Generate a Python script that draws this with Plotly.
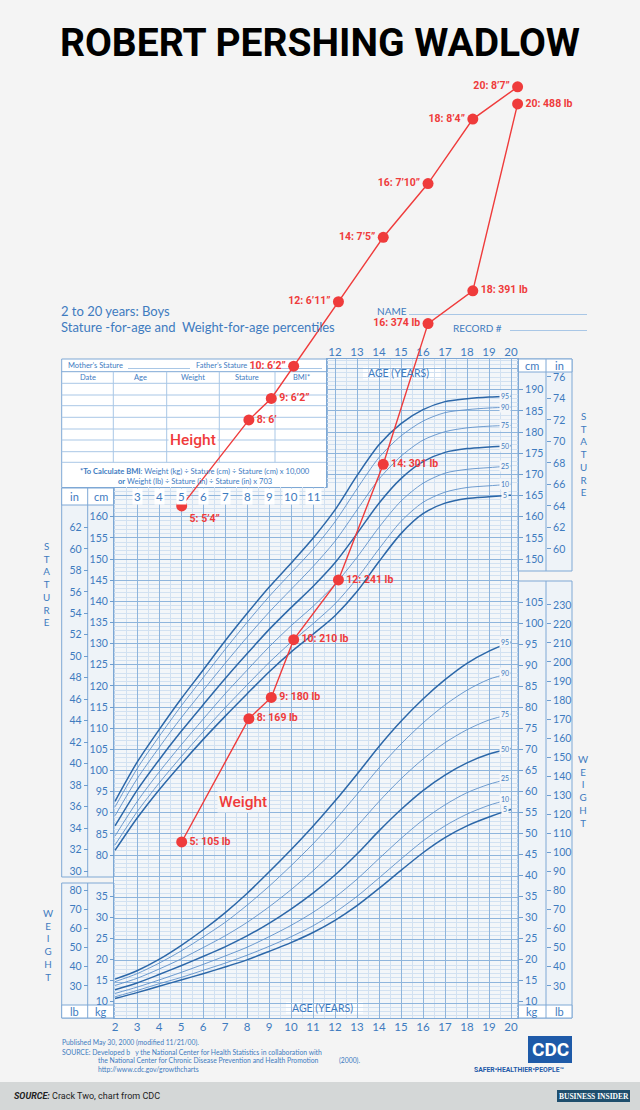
import plotly.graph_objects as go

W, H = 640, 1110

# ---------------- data ----------------
ages = list(range(2, 21))
pct_labels = ["5", "10", "25", "50", "75", "90", "95"]

stature_p5 = [81.1, 88.7, 95.4, 101.5, 107.3, 112.8, 118.1, 123.3, 128.0, 132.2, 136.6, 142.3, 149.4, 156.0, 160.7, 163.2, 164.3, 164.7, 165.1]
stature_p10 = [82.4, 90.2, 97.0, 103.2, 109.1, 114.8, 120.2, 125.5, 130.3, 134.7, 139.4, 145.4, 152.4, 158.9, 163.4, 165.8, 166.9, 167.3, 167.7]
stature_p25 = [84.5, 92.6, 99.6, 106.0, 112.1, 118.1, 123.7, 129.2, 134.2, 138.8, 144.0, 150.4, 157.5, 163.7, 167.9, 170.3, 171.2, 171.6, 172.0]
stature_p50 = [86.9, 95.3, 102.5, 109.2, 115.5, 121.7, 127.6, 133.3, 138.5, 143.5, 149.1, 156.0, 163.2, 169.0, 173.0, 175.2, 176.1, 176.5, 176.8]
stature_p75 = [89.3, 98.0, 105.4, 112.4, 118.9, 125.3, 131.5, 137.4, 142.8, 148.2, 154.2, 161.6, 168.9, 174.3, 178.1, 180.1, 181.0, 181.4, 181.6]
stature_p90 = [91.4, 100.4, 108.0, 115.2, 121.9, 128.6, 135.0, 141.1, 146.7, 152.3, 158.8, 166.6, 174.0, 179.1, 182.6, 184.6, 185.3, 185.7, 185.9]
stature_p95 = [92.7, 101.9, 109.6, 116.9, 123.7, 130.6, 137.1, 143.3, 149.0, 154.9, 161.6, 169.7, 177.0, 182.0, 185.3, 187.2, 187.9, 188.3, 188.5]

weight_p5 = [10.6, 12.0, 13.5, 15.0, 16.5, 18.1, 19.8, 21.8, 23.9, 26.3, 29.2, 32.7, 36.8, 41.1, 45.3, 48.9, 51.7, 53.8, 55.6]
weight_p10 = [11.0, 12.5, 14.1, 15.6, 17.3, 19.0, 20.9, 23.0, 25.3, 27.9, 31.1, 34.9, 39.3, 43.8, 48.1, 51.7, 54.5, 56.6, 58.1]
weight_p25 = [11.8, 13.3, 15.0, 16.8, 18.7, 20.7, 22.8, 25.3, 28.0, 31.1, 34.7, 39.0, 43.9, 48.7, 53.1, 56.7, 59.6, 61.6, 63.0]
weight_p50 = [12.7, 14.3, 16.3, 18.4, 20.6, 22.9, 25.5, 28.5, 31.9, 35.7, 40.0, 45.0, 50.5, 55.6, 60.1, 63.8, 66.7, 68.8, 70.1]
weight_p75 = [13.7, 15.4, 17.6, 20.0, 22.7, 25.5, 28.7, 32.4, 36.5, 41.0, 46.0, 51.6, 57.5, 62.9, 67.6, 71.5, 74.6, 76.9, 78.3]
weight_p90 = [14.6, 16.5, 19.0, 21.9, 25.2, 28.7, 32.8, 37.3, 42.2, 47.4, 53.1, 59.2, 65.5, 71.2, 76.2, 80.5, 84.0, 86.6, 88.1]
weight_p95 = [15.2, 17.2, 19.9, 23.2, 26.9, 31.0, 35.6, 40.7, 46.0, 51.6, 57.6, 64.0, 70.6, 76.6, 81.9, 86.5, 90.4, 93.3, 95.5]

point_ages = [5, 8, 9, 10, 12, 14, 16, 18, 20]
height_in = [64, 72, 74, 77, 83, 89, 94, 100, 103]   # as drawn on the picture
height_labels = ["5: 5\u20194\u201d", "8: 6\u2019", "9: 6\u20192\u201d", "10: 6\u20192\u201d", "12: 6\u201911\u201d",
                 "14: 7\u20195\u201d", "16: 7\u201910\u201d", "18: 8\u20194\u201d", "20: 8\u20197\u201d"]
weight_lb = [105, 169, 180, 210, 241, 301, 374, 391, 488]
weight_labels = ["5: 105 lb", "8: 169 lb", "9: 180 lb", "10: 210 lb", "12: 241 lb",
                 "14: 301 lb", "16: 374 lb", "18: 391 lb", "20: 488 lb"]

top_age_ticks = list(range(12, 21))
bottom_age_ticks = list(range(2, 21))
mid_age_ticks = list(range(3, 12))
left_in_ticks = list(range(30, 63, 2))
left_cm_ticks = list(range(80, 161, 5))
left_lb_ticks = list(range(30, 81, 10))
left_kg_ticks = list(range(10, 36, 5))
right_cm_ticks = list(range(150, 191, 5))
right_in_ticks = list(range(60, 77, 2))
right_kg_ticks = list(range(10, 106, 5))
right_lb_ticks = list(range(30, 231, 10))

# ---------------- styling ----------------
BLUE = '#3e7bbf'
TICKC = '#6d9dd0'
BORDER = '#7ea8d5'
LINE_L = '#a9c7e6'
GRID_MAJ = '#8fb5dc'
GRID_MIN = '#d2e1f1'
GRID_BG = '#f3f6f9'
COL_BG = '#eef3f8'
PAGE_BG = '#f4f4f4'
RED = '#ef3b3b'
CURVE_DARK = '#2c67a8'
CURVE_LIGHT = '#5f91c9'
FONT = 'Lato'


def fx(x):
    return x / W


def fy(y):
    return 1 - y / H


# pixel calibration of the chart scales
def age_at(px):
    return 2 + (px - 115) / 22.0


def cm_at(py):
    return 160 + (516.7 - py) / 4.23


def kg_at(py):
    return 10 + (1001 - py) / 4.2


def red_age_at(px):
    return 5 + (px - 181.7) / 22.393


def in_at(py):
    return (1193.5 - py) / 10.744


def lb_at(py):
    return (1044.3 - py) / 1.927


GX0, GX1, GT, GB, GMID, BX0 = 114, 518, 359, 1018, 487, 327.3
x_rng = [age_at(GX0), age_at(GX1)]
cm_rng = [cm_at(GB), cm_at(GT)]
kg_rng = [kg_at(GB), kg_at(GT)]
in_rng = [v / 2.54 for v in cm_rng]
lb_rng = [v * 2.20462 for v in kg_rng]

fig = go.Figure()

# placeholder (empty) traces so that grid-only / tick-only axes are drawn
for xa, ya in [('x', 'y'), ('x2', 'y2'), ('x4', 'y3')] + [('x3', 'y%d' % k) for k in range(7, 15)]:
    fig.add_trace(go.Scatter(x=[None], y=[None], xaxis=xa, yaxis=ya, mode='markers',
                             hoverinfo='skip', showlegend=False))

# percentile curves
for lab, vals in zip(pct_labels, [stature_p5, stature_p10, stature_p25, stature_p50, stature_p75, stature_p90, stature_p95]):
    major = lab in ("5", "50", "95")
    fig.add_trace(go.Scatter(x=ages, y=vals, xaxis='x3', yaxis='y3', mode='lines',
                             line=dict(color=CURVE_DARK if major else CURVE_LIGHT, width=1.5 if major else 0.9,
                                       shape='spline', smoothing=0.8),
                             hoverinfo='skip', showlegend=False))
for lab, vals in zip(pct_labels, [weight_p5, weight_p10, weight_p25, weight_p50, weight_p75, weight_p90, weight_p95]):
    major = lab in ("5", "50", "95")
    fig.add_trace(go.Scatter(x=ages, y=vals, xaxis='x3', yaxis='y4', mode='lines',
                             line=dict(color=CURVE_DARK if major else CURVE_LIGHT, width=1.5 if major else 0.9,
                                       shape='spline', smoothing=0.8),
                             hoverinfo='skip', showlegend=False))

# Wadlow's points
height_pos = ['bottom right', 'middle right', 'middle right'] + ['middle left'] * 6
weight_pos = ['middle right'] * 6 + ['middle left'] + ['middle right'] * 2
red_font = dict(family='Roboto', size=10.5, color=RED, weight='bold')
fig.add_trace(go.Scatter(x=point_ages, y=height_in, xaxis='x5', yaxis='y5', mode='lines+markers+text',
                         text=height_labels, textposition=height_pos, textfont=red_font,
                         marker=dict(size=11, color=RED), line=dict(color=RED, width=1.4),
                         cliponaxis=False, hoverinfo='skip', showlegend=False))
fig.add_trace(go.Scatter(x=point_ages, y=weight_lb, xaxis='x5', yaxis='y6', mode='lines+markers+text',
                         text=weight_labels, textposition=weight_pos, textfont=red_font,
                         marker=dict(size=11, color=RED), line=dict(color=RED, width=1.4),
                         cliponaxis=False, hoverinfo='skip', showlegend=False))

# ---------------- axes ----------------
def grid_x(domain, rng, anchor, **kw):
    d = dict(domain=domain, range=rng, anchor=anchor, showticklabels=False, ticks='', zeroline=False,
             showgrid=True, gridcolor=GRID_MAJ, gridwidth=1, tick0=0, dtick=1,
             minor=dict(tick0=0, dtick=0.5, showgrid=True, gridcolor=GRID_MIN, gridwidth=1, ticks=''),
             showline=False, linecolor=BORDER, fixedrange=True, automargin=False)
    d.update(kw)
    return d


def grid_y(domain, rng, anchor, **kw):
    d = dict(domain=domain, range=rng, anchor=anchor, showticklabels=False, ticks='', zeroline=False,
             showgrid=True, gridcolor=GRID_MAJ, gridwidth=1, tick0=0, dtick=5,
             minor=dict(tick0=0, dtick=1, showgrid=True, gridcolor=GRID_MIN, gridwidth=1, ticks=''),
             showline=False, linecolor=BORDER, fixedrange=True, automargin=False)
    d.update(kw)
    return d


def hidden(**kw):
    d = dict(visible=False, fixedrange=True, automargin=False, showgrid=False, zeroline=False)
    d.update(kw)
    return d


def tick_axis(rng, vals, pos_px, side):
    return dict(overlaying='y3', anchor='free', position=fx(pos_px), side=side, range=rng,
                tickmode='array', tickvals=vals, ticks='outside', ticklen=4,
                tickcolor=TICKC, tickwidth=1, tickfont=dict(family=FONT, size=10.5, color=BLUE),
                showgrid=False, zeroline=False, showline=False, fixedrange=True, automargin=False)


age_font = dict(family=FONT, size=11.5, color=BLUE)
layout_axes = dict(
    xaxis=grid_x([fx(GX0), fx(GX1)], x_rng, 'y', showline=True),
    yaxis=grid_y([fy(GB), fy(GMID)], [cm_at(GB), cm_at(GMID)], 'x', showline=True, mirror=True),
    xaxis2=grid_x([fx(BX0), fx(GX1)], [age_at(BX0), age_at(GX1)], 'y2', side='top', showline=True),
    yaxis2=grid_y([fy(GMID), fy(GT)], [cm_at(GMID), cm_at(GT)], 'x2', showline=True, mirror=True),
    xaxis3=dict(domain=[fx(GX0), fx(GX1)], range=x_rng, anchor='y3', side='bottom', tickmode='array',
                tickvals=bottom_age_ticks, ticks='', showgrid=False, zeroline=False, showline=False,
                tickfont=age_font, fixedrange=True, automargin=False),
    xaxis4=dict(overlaying='x3', anchor='y3', side='top', range=x_rng, tickmode='array',
                tickvals=top_age_ticks, ticks='', showgrid=False, zeroline=False, showline=False,
                tickfont=age_font, fixedrange=True, automargin=False),
    yaxis3=hidden(domain=[fy(GB), fy(GT)], range=cm_rng, anchor='x3'),
    yaxis4=hidden(overlaying='y3', range=kg_rng, anchor='x3'),
    xaxis5=hidden(domain=[0, 1], range=[red_age_at(0), red_age_at(W)], anchor='y5'),
    yaxis5=hidden(domain=[0, 1], range=[in_at(H), in_at(0)], anchor='x5'),
    yaxis6=hidden(overlaying='y5', range=[lb_at(H), lb_at(0)], anchor='x5'),
    yaxis7=tick_axis(cm_rng, left_cm_ticks, 114, 'left'),
    yaxis8=tick_axis(in_rng, left_in_ticks, 87.7, 'left'),
    yaxis9=tick_axis(kg_rng, left_kg_ticks, 114, 'left'),
    yaxis10=tick_axis(lb_rng, left_lb_ticks, 87.7, 'left'),
    yaxis11=tick_axis(cm_rng, right_cm_ticks, 518, 'right'),
    yaxis12=tick_axis(in_rng, right_in_ticks, 546, 'right'),
    yaxis13=tick_axis(kg_rng, right_kg_ticks, 518, 'right'),
    yaxis14=tick_axis(lb_rng, right_lb_ticks, 546, 'right'),
)

# ---------------- shapes ----------------
shapes = []


def rect(x0, y0, x1, y1, fill=None, line=None, lw=1, top=False):
    s = dict(type='rect', x0=fx(x0), x1=fx(x1), y0=fy(y1), y1=fy(y0), layer='below',
             fillcolor=fill if fill else 'rgba(0,0,0,0)',
             line=dict(color=line if line else 'rgba(0,0,0,0)', width=lw if line else 0))
    if top:
        s.update(xref='x5 domain', yref='y5 domain')
    else:
        s.update(xref='paper', yref='paper')
    shapes.append(s)


def hline(x0, x1, y, color=LINE_L, lw=1):
    shapes.append(dict(type='line', xref='paper', yref='paper', layer='below', x0=fx(x0), x1=fx(x1),
                       y0=fy(y), y1=fy(y), line=dict(color=color, width=lw)))


def vline(x, y0, y1, color=LINE_L, lw=1):
    shapes.append(dict(type='line', xref='paper', yref='paper', layer='below', x0=fx(x), x1=fx(x),
                       y0=fy(y0), y1=fy(y1), line=dict(color=color, width=lw)))


# grid backgrounds
rect(GX0, GMID, GX1, GB, fill=GRID_BG)
rect(BX0, GT, GX1, GMID, fill=GRID_BG)
# left stature / weight columns
rect(61.7, 488, 114, 877, fill=COL_BG, line=BORDER)
rect(61.7, 488, 114, 505, fill='white', line=BORDER)
vline(87.7, 488, 877, BORDER)
rect(61.7, 883, 114, 1018, fill=COL_BG, line=BORDER)
rect(61.7, 1005, 114, 1018, fill='white', line=BORDER)
vline(87.7, 883, 1018, BORDER)
# right stature / weight columns
rect(518, GT, 572, 571, fill=COL_BG, line=BORDER)
rect(518, GT, 572, 372, fill='white', line=BORDER)
vline(546, GT, 571, BORDER)
rect(518, 581, 572, 1018, fill=COL_BG, line=BORDER)
rect(518, 1005, 572, 1018, fill='white', line=BORDER)
vline(546, 581, 1018, BORDER)
# record table
rect(61.7, GT, BX0, 487.5, fill='white', line=BORDER)
hline(61.7, BX0, 371.7, BORDER)
for yy in [383.3, 395, 405.7, 417.3, 429, 440, 451.7, 462.3]:
    hline(61.7, BX0, yy, LINE_L)
for xx in [113.3, 166.7, 219.3, 275]:
    vline(xx, 371.7, 462.3, LINE_L)
hline(128, 190, 368.5, LINE_L)
hline(250, 322, 368.5, LINE_L)
# name / record lines
hline(409, 587, 314.5, LINE_L)
hline(510, 587, 330.5, LINE_L)
# age boxes inside grid (above grid, below red marks)
rect(363, 367, 440.7, 379.3, fill='white', top=True)
rect(286, 1002, 363, 1013.5, fill='white', top=True)
# footer
rect(528, 1036, 572, 1063, fill='#1e5aa8')
rect(0, 1082, 640, 1110, fill='#d4d7d7')
rect(557, 1090, 630, 1102, fill='#1f4e6d')

# ---------------- annotations ----------------
anns = []


def ann(text, x, y, size=10, color=BLUE, family=FONT, xanchor='center', yanchor='middle', weight=None,
        bg=None, xref='paper', yref='paper', **kw):
    a = dict(text=text, x=fx(x) if xref == 'paper' else x, y=fy(y) if yref == 'paper' else y,
             xref=xref, yref=yref, showarrow=False, xanchor=xanchor, yanchor=yanchor,
             font=dict(family=family, size=size, color=color))
    if weight:
        a['font']['weight'] = weight
    if bg:
        a['bgcolor'] = bg
        a['borderpad'] = 1
    a.update(kw)
    anns.append(a)


ann('ROBERT PERSHING WADLOW', 320, 43, size=39, color='#000000', family='Roboto', weight='bold')
ann('2 to 20 years: Boys', 59, 311, size=13, xanchor='left')
ann('Stature -for-age and\u00a0 Weight-for-age percentiles', 59, 326.5, size=13, xanchor='left')
ann('NAME', 375, 311, size=10, xanchor='left')
ann('RECORD #', 451, 327.5, size=10, xanchor='left')

# table text
ann("Mother\u2019s Stature", 66, 366, size=7.5, xanchor='left')
ann("Father\u2019s Stature", 194, 366, size=7.5, xanchor='left')
for t, xx in zip(['Date', 'Age', 'Weight', 'Stature', 'BMI*'], [87.5, 140, 193, 247, 301]):
    ann(t, xx, 377.5, size=7.5)
ann('<b>*To Calculate BMI</b>: Weight (kg) \u00f7 Stature (cm) \u00f7 Stature (cm) x 10,000', 194.5, 471, size=7.6)
ann('<b>or</b> Weight (lb) \u00f7 Stature (in) \u00f7 Stature (in) x 703', 194.5, 481, size=7.6)

ann('Height', 192.5, 440, size=15.5, color=RED, family='Roboto', weight=500, bg='white')
ann('Weight', 242.5, 801.5, size=15.5, color=RED, family='Roboto', weight=500, bg=GRID_BG)

# axis headers
ann('in', 74.7, 496.5, size=11)
ann('cm', 100.8, 496.5, size=11)
ann('lb', 74.7, 1011.5, size=11)
ann('kg', 100.8, 1011.5, size=11)
ann('cm', 532, 365.5, size=11)
ann('in', 559, 365.5, size=11)
ann('kg', 532, 1011.5, size=11)
ann('lb', 559, 1011.5, size=11)
ann('AGE (YEARS)', 366, 373, size=10.5, xanchor='left')
ann('AGE (YEARS)', 290, 1007.7, size=10.5, xanchor='left')
for a in mid_age_ticks:
    ann(str(a), a, 496.5, size=11.5, xref='x3', bg='white')

ann('S<br>T<br>A<br>T<br>U<br>R<br>E', 46.5, 583.5, size=9.8)
ann('W<br>E<br>I<br>G<br>H<br>T', 48, 944.5, size=9.8)
ann('S<br>T<br>A<br>T<br>U<br>R<br>E', 584, 454.5, size=9.8)
ann('W<br>E<br>I<br>G<br>H<br>T', 583, 790.5, size=9.8)

# percentile labels at the right end of the curves
for lab, vals in zip(pct_labels, [stature_p5, stature_p10, stature_p25, stature_p50, stature_p75, stature_p90, stature_p95]):
    ann(lab, ages[-1], vals[-1], size=7, xref='x3', yref='y3', bg=GRID_BG, xshift=-6)
for lab, vals in zip(pct_labels, [weight_p5, weight_p10, weight_p25, weight_p50, weight_p75, weight_p90, weight_p95]):
    ann(lab, ages[-1], vals[-1], size=7, xref='x3', yref='y4', bg=GRID_BG, xshift=-6)

# footer text
ann('Published May 30, 2000 (modified 11/21/00).', 60, 1042.7, size=6.8, xanchor='left')
ann('SOURCE: Developed b\u00a0\u00a0\u00a0y the National Center for Health Statistics in collaboration with', 60, 1051.7, size=6.8, xanchor='left')
ann('the National Center for Chronic Disease Prevention and Health Promotion', 95.5, 1060.2, size=6.8, xanchor='left')
ann('(2000).', 336.5, 1060.2, size=6.8, xanchor='left')
ann('http://www.cdc.gov/growthcharts', 95.5, 1069, size=6.8, xanchor='left')
ann('CDC', 550, 1049.5, size=19, color='white', family='Roboto', weight='bold')
ann('SAFER\u2022HEALTHIER\u2022PEOPLE\u2122', 519, 1069.5, size=6.8, color='#1e5aa8', family='Roboto', weight='bold')
ann('<b><i>SOURCE:</i></b> Crack Two, chart from CDC', 12, 1096, size=9, color='#222222', family='Roboto', xanchor='left')
ann('BUSINESS INSIDER', 593.5, 1096.3, size=7.5, color='white', family='Liberation Serif', weight='bold')

fig.update_layout(
    template='none', width=W, height=H, autosize=False,
    margin=dict(l=0, r=0, t=0, b=0, pad=0),
    paper_bgcolor=PAGE_BG, plot_bgcolor='rgba(0,0,0,0)',
    showlegend=False, hovermode=False,
    shapes=shapes, annotations=anns,
    **layout_axes,
)

fig.write_html("out.html",
               config={'displayModeBar': False, 'staticPlot': True},
               post_script="document.body.style.margin='0';document.body.style.padding='0';"
                           "document.body.style.background='%s';" % PAGE_BG)
